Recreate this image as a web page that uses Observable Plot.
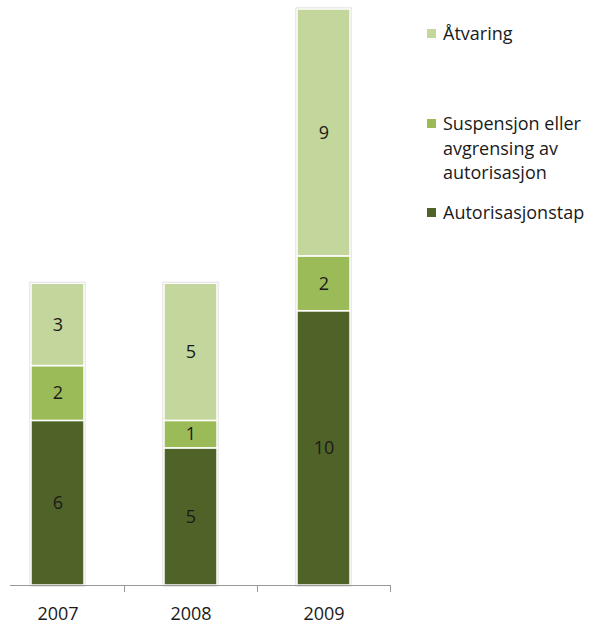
<!DOCTYPE html>
<html>
<head>
<meta charset="utf-8">
<script src="https://cdn.jsdelivr.net/npm/d3@7"></script>
<script src="https://cdn.jsdelivr.net/npm/@observablehq/plot@0.6"></script>
<style>
  body { margin: 0; background: #fff; }
  #wrap { position: relative; width: 591px; height: 626px; font-family: "Open Sans", sans-serif; }
  #legend { position: absolute; left: 427px; top: 0; color: #1a1a1a; font-size: 18px; line-height: 24.5px; }
  .item { display: flex; align-items: flex-start; white-space: pre-line; }
  .swatch { width: 9px; height: 9px; margin-top: 8px; margin-right: 7px; flex: none; }
</style>
</head>
<body>
<div id="wrap"><div id="legend"></div></div>
<script>
// Cases per year, stacked bottom to top
const years = ["2007", "2008", "2009"];
const series = ["Autorisasjonstap", "Suspensjon eller avgrensing av autorisasjon", "Åtvaring"];
const autorisasjonstap = [6, 5, 10];
const suspensjon = [2, 1, 2];
const atvaring = [3, 5, 9];
const colors = ["#4F6228", "#9BBB59", "#C3D69B"];
const legendLabels = ["Åtvaring", "Suspensjon eller\navgrensing av\nautorisasjon", "Autorisasjonstap"];
const legendColors = ["#C3D69B", "#9BBB59", "#4F6228"];

const seriesValues = [autorisasjonstap, suspensjon, atvaring];
const data = [];
years.forEach((year, i) => {
  series.forEach((s, k) => data.push({year, type: s, value: seriesValues[k][i]}));
});
const totals = years.map((year, i) => ({year, total: seriesValues.reduce((a, v) => a + v[i], 0)}));

const step = (390 + 9) / years.length;

const chart = Plot.plot({
  width: 591,
  height: 626,
  marginTop: 9,
  marginBottom: 41,
  marginLeft: 10,
  marginRight: 201,
  style: {fontFamily: "'Open Sans', sans-serif", fontSize: "18px", color: "#1a1a1a"},
  x: {domain: years, range: [-9, 390], paddingInner: 0.6, paddingOuter: 0.3, label: null,
      tickSize: 0, tickPadding: 22},
  y: {domain: [0, 21], axis: null},
  color: {domain: series, range: colors},
  marks: [
    // soft outline behind each column
    Plot.barY(totals, {x: "year", y: "total", fill: "none", stroke: "#d6d6d6", strokeWidth: 3}),
    Plot.barY(data, {x: "year", y: "value", z: "type", fill: "type", stroke: "white", strokeWidth: 1.5}),
    Plot.text(data, Plot.stackY({x: "year", y: "value", z: "type", text: "value",
      fill: "#1a1a1a", fontSize: 18})),
    Plot.ruleY([0], {stroke: "#999", strokeWidth: 1}),
    Plot.ruleX(years, {x: d => d, y1: 0, y2: 0, dx: step / 2, insetBottom: -7, stroke: "#999"})
  ]
});
document.getElementById("wrap").prepend(chart);

const legend = document.getElementById("legend");
const gaps = [21, 65.5, 15.5];
legendLabels.forEach((label, i) => {
  const item = document.createElement("div");
  item.className = "item";
  item.style.marginTop = gaps[i] + "px";
  const sw = document.createElement("span");
  sw.className = "swatch";
  sw.style.background = legendColors[i];
  const tx = document.createElement("span");
  tx.textContent = label;
  item.append(sw, tx);
  legend.append(item);
});
</script>
</body>
</html>
